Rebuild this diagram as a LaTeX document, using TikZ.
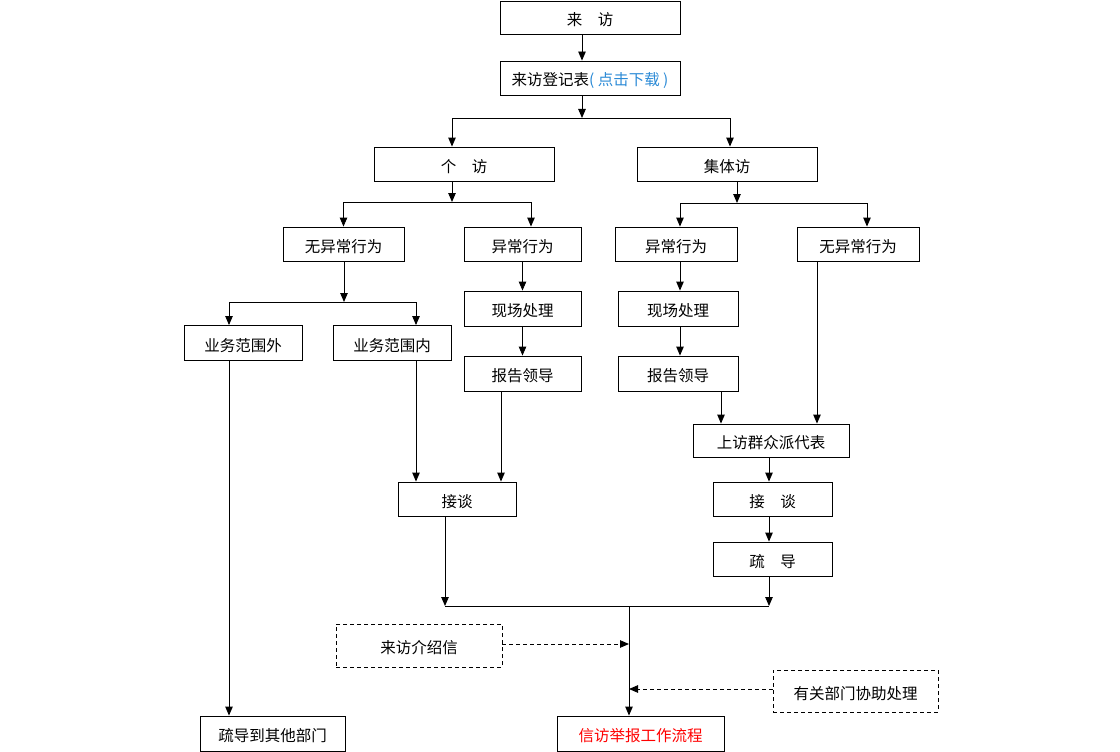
\documentclass[tikz,border=0pt]{standalone}
\usepackage{fontspec}
\setmainfont{Noto Sans CJK SC}
\usepackage{xcolor}
\usetikzlibrary{arrows.meta, positioning, calc}
\definecolor{linkblue}{HTML}{2B8AD6}

\begin{document}
\begin{tikzpicture}[x=1pt, y=-1pt,
    box/.style={rectangle, draw, line width=0.9pt, inner sep=0pt,
      minimum width=118pt, minimum height=34pt, align=center,
      text height=18pt, text depth=2pt,
      font=\fontsize{15.5}{18}\selectfont},
    dbox/.style={box, dash pattern=on 4pt off 3pt, minimum height=43pt},
    arrow/.style={line width=0.9pt, -{Triangle[length=9pt, width=7.5pt]}},
    darrow/.style={arrow, dash pattern=on 4pt off 3pt}
]
\useasboundingbox (0,0) rectangle (1120,752);
% top
\node[box, minimum width=180pt, minimum height=33pt] (visit) at (590,17.5) {来\quad 访};
\node[box, minimum width=180pt] (reg)   at (590,78)  {来访登记表\textcolor{linkblue}{(~点击下载~)}};
\node[box, minimum width=180pt] (single) at (464,164) {个\quad 访};
\node[box, minimum width=180pt] (group)  at (727,164) {集体访};
% second level
\node[box, minimum width=121pt] (normA) at (343.5,244) {无异常行为};
\node[box, minimum width=117pt] (oddA)  at (522.5,244) {异常行为};
\node[box, minimum width=122pt] (oddB)  at (676,244)   {异常行为};
\node[box, minimum width=122pt] (normB) at (858,244)   {无异常行为};
% left branch
\node[box, minimum height=35pt] (outside) at (243,343) {业务范围外};
\node[box, minimum height=35pt] (inside)  at (392,343) {业务范围内};
\node[box, minimum width=117pt, minimum height=35pt] (siteA)   at (522.5,308.5) {现场处理};
\node[box, minimum width=117pt, minimum height=35pt] (reportA) at (522.5,373.5) {报告领导};
\node[box] (talkA) at (457,499) {接谈};
% right branch
\node[box, minimum width=120pt, minimum height=35pt] (siteB)   at (678,308.5) {现场处理};
\node[box, minimum width=120pt, minimum height=35pt] (reportB) at (678,373.5) {报告领导};
\node[box, minimum width=156pt, minimum height=33pt] (deleg) at (771,440.5) {上访群众派代表};
\node[box, minimum width=119pt] (talkB)  at (772.5,499) {接\quad 谈};
\node[box, minimum width=119pt] (guide)  at (772.5,559) {疏\quad 导};
% bottom
\node[dbox, minimum width=166pt] (letter) at (419,645.5) {来访介绍信};
\node[dbox, minimum width=165pt, minimum height=42pt] (assist) at (855.5,691) {有关部门协助处理};
\node[box, minimum width=145pt, minimum height=35pt] (other) at (272.5,733.5) {疏导到其他部门};
\node[box, minimum width=167pt, minimum height=35pt, text=red] (flow) at (640.5,733.5) {信访举报工作流程};
% junctions
\coordinate (s1) at (582,118);
\coordinate (s2) at (452,202);
\coordinate (s3) at (737,203);
\coordinate (s4) at (344,302);
\coordinate (m)  at (629,606);

\draw[arrow] ([xshift=-8pt]visit.south) -- ([xshift=-8pt]reg.north);
\draw[arrow] (reg.south -| s1) -- (s1);
\draw[arrow] (s1) -| ([xshift=-12pt]single.north);
\draw[arrow] (s1) -| ([xshift=3pt]group.north);
\draw[arrow] (single.south -| s2) -- (s2);
\draw[arrow] (s2) -| (normA.north);
\draw[arrow] (s2) -| ([xshift=8.5pt]oddA.north);
\draw[arrow] (group.south -| s3) -- (s3);
\draw[arrow] (s3) -| ([xshift=4pt]oddB.north);
\draw[arrow] (s3) -| ([xshift=9pt]normB.north);
\draw[arrow] (normA.south -| s4) -- (s4);
\draw[arrow] (s4) -| ([xshift=-14pt]outside.north);
\draw[arrow] (s4) -| ([xshift=24pt]inside.north);
\draw[arrow] (oddA) -- (siteA);
\draw[arrow] (siteA) -- (reportA);
\draw[arrow] ([xshift=4pt]oddB.south) -- ([xshift=4pt]oddB.south |- siteB.north);
\draw[arrow] ([xshift=2pt]siteB.south) -- ([xshift=2pt]reportB.north);
\draw[arrow] ([xshift=24pt]inside.south) -- ([xshift=24pt]inside.south |- talkA.north);
\draw[arrow] ([xshift=-21.5pt]reportA.south) -- ([xshift=-21.5pt]reportA.south |- talkA.north);
\draw[arrow] ([xshift=43pt]reportB.south) -- ([xshift=43pt]reportB.south |- deleg.north);
\draw[arrow] ([xshift=-41pt]normB.south) -- ([xshift=-41pt]normB.south |- deleg.north);
\draw[arrow] ([xshift=-2pt]deleg.south) -- ([xshift=-3.5pt]talkB.north);
\draw[arrow] ([xshift=-3.5pt]talkB.south) -- ([xshift=-3.5pt]guide.north);
\draw[arrow] ([xshift=-14pt]outside.south) -- ([xshift=-14pt]outside.south |- other.north);
% merge
\draw[arrow] ([xshift=-12pt]talkA.south) -- ([xshift=-12pt]talkA.south |- m);
\draw[arrow] ([xshift=-3.5pt]guide.south) -- ([xshift=-3.5pt]guide.south |- m);
\draw[line width=0.9pt] ([xshift=-12pt]talkA.south |- m) -- ([xshift=-3.5pt]guide.south |- m);
\draw[arrow] (m) -- (m |- flow.north);
\draw[darrow] ([yshift=1.5pt]letter.east) -- ([yshift=1.5pt]letter.east -| m);
\draw[darrow] ([yshift=2pt]assist.west) -- ([yshift=2pt]assist.west -| m);
\end{tikzpicture}
\end{document}
